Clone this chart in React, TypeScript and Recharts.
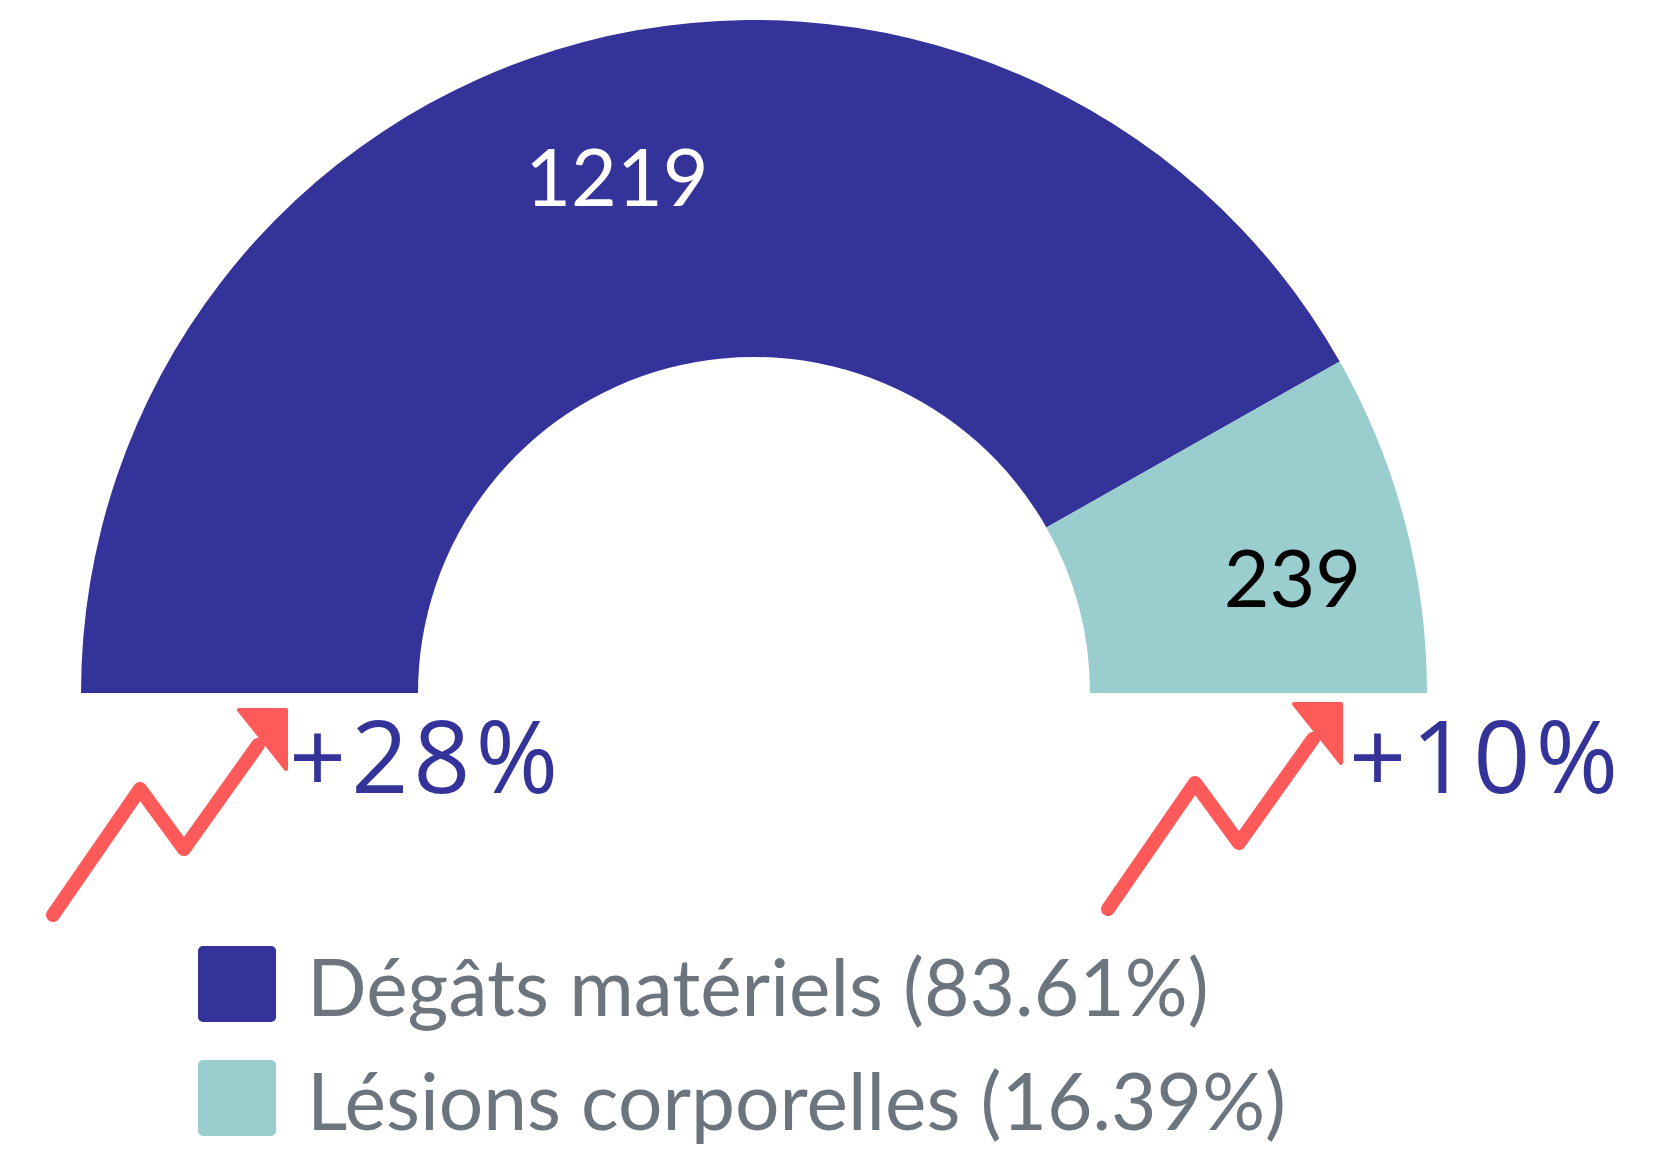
import React from 'react'
import { PieChart, Pie, Cell, Legend } from 'recharts'

const categories = ['Dégâts matériels', 'Lésions corporelles']
const values = [1219, 239]
const changes = ['+28%', '+10%']
const sliceColors = ['#343399', '#9acdcd']
const labelColors = ['#ffffff', '#000000']

const RAD = Math.PI / 180
const total = values.reduce((s, v) => s + v, 0)
const chartData = categories.map((name, i) => ({
  name,
  value: values[i],
  pct: ((values[i] / total) * 100).toFixed(2),
}))

interface SliceLabelProps {
  cx: number
  cy: number
  midAngle: number
  innerRadius: number
  outerRadius: number
  value: number
  index: number
}

function SliceLabel({ cx, cy, midAngle, innerRadius, outerRadius, value, index }: SliceLabelProps) {
  const r = innerRadius + (outerRadius - innerRadius) * 0.6
  // the small slice label sits a little lower/right in the original
  const nudge = index === 1 ? 18 : 0
  const x = cx + r * Math.cos(-midAngle * RAD) + nudge
  const y = cy + r * Math.sin(-midAngle * RAD) + nudge
  return (
    <text
      x={x}
      y={y + 33}
      textAnchor="middle"
      fill={labelColors[index]}
      style={{ fontFamily: 'Lato', fontSize: 79 }}
    >
      {value}
    </text>
  )
}

// the red "trending up" icon, drawn from its arrow-head corner
function TrendIcon({ x, y }: { x: number; y: number }) {
  return (
    <g transform={`translate(${x},${y})`}>
      <polyline
        points="-233,206 -146,80 -102,140 -28,36"
        fill="none"
        stroke="#ff5a5a"
        strokeWidth={14}
        strokeLinecap="round"
        strokeLinejoin="round"
      />
      <path d="M-47,1 L0,1 L0,60 Z" fill="#ff5a5a" stroke="#ff5a5a" strokeWidth={4} strokeLinejoin="round" />
    </g>
  )
}

function LegendBox() {
  return (
    <div style={{ fontFamily: 'Lato', fontSize: 78.5, color: '#6c757d', lineHeight: 1 }}>
      {chartData.map((d, i) => (
        <div key={d.name} style={{ display: 'flex', alignItems: 'center', height: 114 }}>
          <div
            style={{
              width: 78,
              height: 76,
              borderRadius: 5,
              background: sliceColors[i],
              marginRight: 31,
            }}
          />
          <span style={{ whiteSpace: 'nowrap', position: 'relative', top: 2 }}>
            {d.name} ({d.pct}%)
          </span>
        </div>
      ))}
    </div>
  )
}

export default function App() {
  return (
    <div style={{ position: 'absolute', left: 0, top: 0, width: 1653, height: 1153, background: '#fff' }}>
      <PieChart width={1653} height={1153} margin={{ top: 0, right: 0, bottom: 0, left: 0 }}>
        <Pie
          data={chartData}
          dataKey="value"
          nameKey="name"
          cx={754}
          cy={693}
          startAngle={180}
          endAngle={0}
          innerRadius={336}
          outerRadius={673}
          stroke="none"
          labelLine={false}
          label={SliceLabel as any}
          isAnimationActive={false}
        >
          {chartData.map((d, i) => (
            <Cell key={d.name} fill={sliceColors[i]} />
          ))}
        </Pie>
        <Legend
          content={() => <LegendBox />}
          wrapperStyle={{ position: 'absolute', left: 198, top: 927, width: 'auto' }}
        />
      </PieChart>
      <svg
        width={1653}
        height={1153}
        style={{ position: 'absolute', left: 0, top: 0, pointerEvents: 'none' }}
      >
        <TrendIcon x={286} y={709} />
        <TrendIcon x={1341} y={703} />
        {changes.map((c, i) => (
          <text
            key={c}
            x={i === 0 ? 289 : 1349}
            y={793}
            fill="#343399"
            fontFamily="Open Sans"
            fontWeight={400}
            fontSize={100}
            letterSpacing={5}
          >
            {c}
          </text>
        ))}
      </svg>
    </div>
  )
}
